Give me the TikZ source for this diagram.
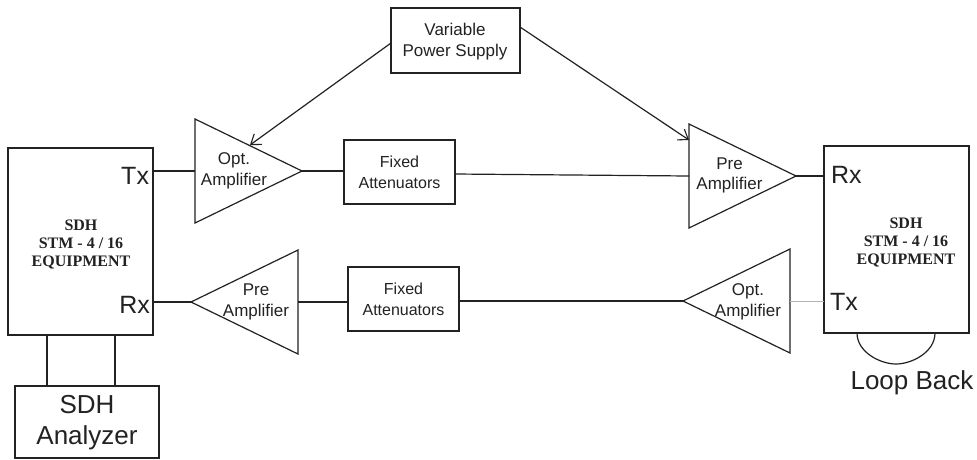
\documentclass[tikz,border=0pt]{standalone}
\usepackage{fontspec}
\setmainfont{Liberation Sans}
\newfontfamily\serifb{Liberation Serif}[BoldFont={Liberation Serif Bold}]
\usetikzlibrary{arrows.meta,shapes.geometric,calc}
\definecolor{ink}{HTML}{222222}
\tikzset{
  every node/.style={inner sep=0pt,outer sep=0pt,text=ink},
  ln/.style={draw=ink,line width=1.2pt},
  eqbox/.style={draw=ink,line width=2pt,rectangle,minimum width=145pt,minimum height=187pt},
  amp/.style={ln,isosceles triangle,isosceles triangle stretches,shape border rotate=#1,minimum width=104pt,minimum height=107pt,line join=miter},
  lab/.style={align=center,font=\fontsize{17}{20.5}\selectfont},
  fix/.style={align=center,font=\fontsize{16}{21}\selectfont},
  port/.style={font=\fontsize{25}{28}\selectfont},
  eqlab/.style={align=center,font=\serifb\bfseries\fontsize{16}{18}\selectfont},
  conn/.style={draw=ink,line width=1.2pt},
  arr/.style={conn,-{Straight Barb[length=9pt,width=13pt,line width=1.1pt]}}
}
\begin{document}
\begin{tikzpicture}[x=1pt,y=-1pt]
\useasboundingbox (0,0) rectangle (977,459);
\fill[white] (0,0) rectangle (977,459);
% boxes
\node[eqbox] (lbox) at (80.5,241.5) {};
\node[eqbox] (rbox) at (896.5,239.5) {};
\node[ln,minimum width=144pt,minimum height=72pt] (ana) at (87,422) {};
\node[ln,minimum width=129pt,minimum height=65pt] (vps) at (455.5,40.5) {};
\node[ln,minimum width=111pt,minimum height=64pt] (fa1) at (399.5,172) {};
\node[ln,minimum width=111pt,minimum height=64pt] (fa2) at (403.5,299) {};
% amplifiers
\node[amp=0,anchor=apex] (oa1) at (302,171) {};
\node[amp=180,anchor=apex] (pa2) at (191,302) {};
\node[amp=0,anchor=apex] (pa1) at (796,176) {};
\node[amp=180,anchor=apex] (oa2) at (683,301) {};
% labels
\node[lab] (t1) at (234,171) {Opt.\\Amplifier};
\node[lab] (t2) at (256,302) {Pre\\Amplifier};
\node[lab] (t3) at (729.5,175.5) {Pre\\Amplifier};
\node[lab] (t4) at (748,302) {Opt.\\Amplifier};
\node[fix] (t5) at (399.5,172) {Fixed\\Attenuators};
\node[fix] (t6) at (403.5,299) {Fixed\\Attenuators};
\node[align=center,font=\fontsize{17}{21}\selectfont] (t7) at (455,42) {Variable\\Power Supply};
\node[align=center,font=\fontsize{26}{31}\selectfont] (t8) at (87,423) {SDH\\Analyzer};
\node[eqlab] (t9) at (81,244) {SDH\\STM - 4 / 16\\EQUIPMENT};
\node[eqlab] (t10) at (906,242) {SDH\\STM - 4 / 16\\EQUIPMENT};
\node[port,anchor=east] (tx1) at (149,176) {Tx};
\node[port,anchor=east] (rx1) at (150,305) {Rx};
\node[port,anchor=west] (rx2) at (831,175) {Rx};
\node[port,anchor=west] (tx2) at (830,302) {Tx};
\node[font=\fontsize{26}{28}\selectfont] (lb) at (912,383) {Loop Back};
% connectors
\draw[conn] (lbox.east|-oa1.lower side) -- (oa1.lower side);
\draw[conn] (oa1.apex) -- (fa1.west|-oa1.apex);
\draw[conn] (fa1.east|-0,174) -- (pa1.lower side);
\draw[conn] (pa1.apex) -- (rbox.west|-pa1.apex);
\draw[conn] (lbox.east|-pa2.apex) -- (pa2.apex);
\draw[conn] (pa2.lower side) -- (fa2.west|-pa2.lower side);
\draw[conn] (fa2.east|-oa2.apex) -- (oa2.apex);
\draw[draw=gray!60,line width=1pt] (oa2.lower side) -- (rbox.west|-oa2.lower side);
\draw[conn] (lbox.south-|47,0) -- (ana.north-|47,0);
\draw[conn] (lbox.south-|115,0) -- (ana.north-|115,0);
\draw[conn] (rbox.south-|857,0) .. controls (857,352) and (880,364) .. (896,364) .. controls (912,364) and (935,352) .. (rbox.south-|935,0);
\coordinate (h1) at (250,145);
\coordinate (h2) at (689,140);
\draw[arr] ([yshift=-2.5pt]vps.west) -- (h1);
\draw[arr] ([yshift=13.5pt]vps.east) -- (h2);
\end{tikzpicture}
\end{document}
